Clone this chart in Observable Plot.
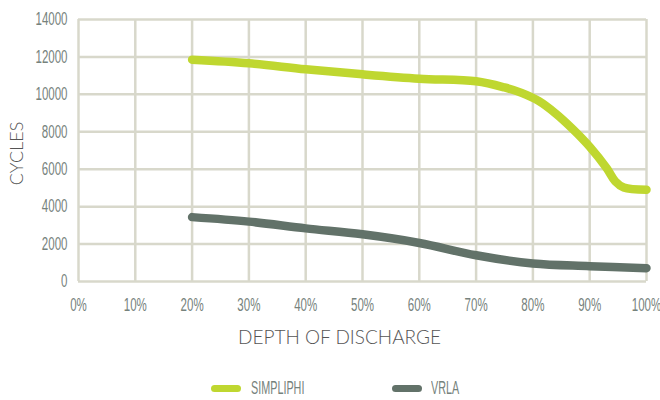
<!DOCTYPE html>
<html>
<head>
<meta charset="utf-8">
<script src="https://cdn.jsdelivr.net/npm/d3@7"></script>
<script src="https://cdn.jsdelivr.net/npm/@observablehq/plot@0.6"></script>
<style>
  html, body { margin: 0; padding: 0; background: #fff; }
  #chart { position: relative; width: 660px; }
  .legend { position: relative; width: 660px; height: 40px; font-family: "Liberation Sans", Arial, sans-serif; font-size: 18px; color: #76827c; }
  .sw { position: absolute; top: 25px; width: 30px; height: 7px; border-radius: 4px; }
  .lb { position: absolute; top: 18px; transform: scaleX(0.6); transform-origin: left center; white-space: nowrap; }
</style>
</head>
<body>
<div id="chart"></div>
<script>
const depth = [20, 30, 40, 50, 60, 70, 75, 78, 81, 84, 87, 90, 93, 94.5, 96, 100];
const simpliphi = [11850, 11660, 11340, 11070, 10840, 10700, 10370, 10080, 9650, 8980, 8150, 7200, 6050, 5350, 5020, 4900];
const vrlaDepth = [20, 30, 40, 50, 60, 70, 80, 90, 100];
const vrla = [3440, 3200, 2840, 2520, 2060, 1400, 960, 820, 710];
const xTicks = [0, 10, 20, 30, 40, 50, 60, 70, 80, 90, 100];
const yTicks = [0, 2000, 4000, 6000, 8000, 10000, 12000, 14000];
const seriesNames = ["SIMPLIPHI", "VRLA"];
const seriesColors = ["#bfd730", "#627269"];

const rows = [
  ...depth.map((d, i) => ({depth: d, cycles: simpliphi[i], series: seriesNames[0]})),
  ...vrlaDepth.map((d, i) => ({depth: d, cycles: vrla[i], series: seriesNames[1]}))
];

const plot = Plot.plot({
  width: 660,
  height: 360,
  marginLeft: 78,
  marginRight: 14,
  marginTop: 19,
  marginBottom: 79,
  style: {fontFamily: "'Liberation Sans', Arial, sans-serif", fontSize: "18px", color: "#76827c", background: "#fff"},
  x: {domain: [0, 100]},
  y: {domain: [0, 14000]},
  color: {domain: seriesNames, range: seriesColors},
  marks: [
    Plot.gridX(xTicks, {stroke: "#d8d8cb", strokeOpacity: 1, strokeWidth: 2.5}),
    Plot.gridY(yTicks, {stroke: "#d8d8cb", strokeOpacity: 1, strokeWidth: 2.5}),
    Plot.axisX(xTicks, {tickSize: 0, tickPadding: 17, tickFormat: d => d + "%", label: null}),
    Plot.axisY(yTicks, {tickSize: 0, tickPadding: 11, tickFormat: d => String(d), label: null}),
    Plot.line(rows, {x: "depth", y: "cycles", z: "series", stroke: "series", strokeWidth: 8.5, curve: "catmull-rom", strokeLinecap: "round", strokeLinejoin: "round"}),
    Plot.text(["DEPTH OF DISCHARGE"], {frameAnchor: "bottom", dx: -23, dy: 62, text: d => d, fontFamily: "Lato, 'Open Sans', sans-serif", fontWeight: 300, fontSize: 19, fill: "#555555", letterSpacing: 2}),
    Plot.text(["CYCLES"], {frameAnchor: "left", textAnchor: "middle", dx: -61, dy: 3, rotate: -90, text: d => d, fontFamily: "Lato, 'Open Sans', sans-serif", fontWeight: 300, fontSize: 18, fill: "#555555", letterSpacing: 2.5})
  ]
});

// condense the tick labels like the reference's narrow typeface
d3.select(plot).selectAll('g[aria-label="x-axis tick label"] text, g[aria-label="y-axis tick label"] text')
  .attr("transform", function() {
    const t = this.getAttribute("transform") || "";
    return t + " scale(0.64,1)";
  });

document.getElementById("chart").appendChild(plot);

const legend = document.createElement("div");
legend.className = "legend";
const pos = [[211, 251], [392, 431]];
seriesNames.forEach((name, i) => {
  const sw = document.createElement("div");
  sw.className = "sw";
  sw.style.left = pos[i][0] + "px";
  sw.style.background = seriesColors[i];
  const lb = document.createElement("div");
  lb.className = "lb";
  lb.style.left = pos[i][1] + "px";
  lb.textContent = name;
  legend.appendChild(sw);
  legend.appendChild(lb);
});
document.getElementById("chart").appendChild(legend);
</script>
</body>
</html>
